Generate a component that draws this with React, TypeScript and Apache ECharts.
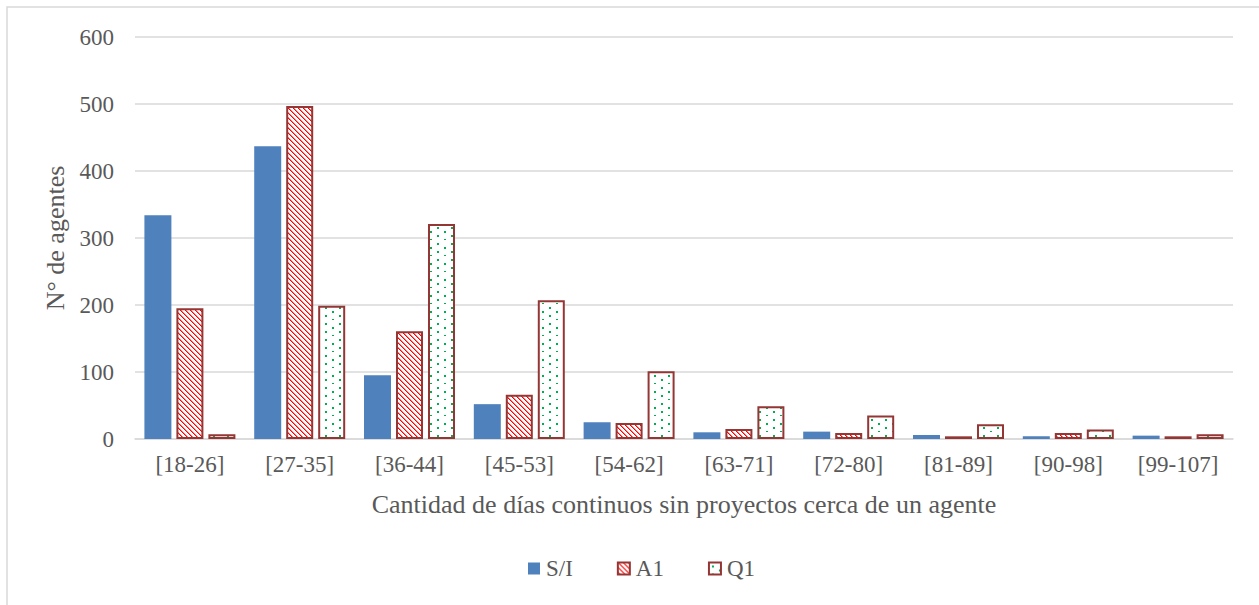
import React, { useEffect, useRef } from "react";
import * as echarts from "echarts";

const categories = ["[18-26]", "[27-35]", "[36-44]", "[45-53]", "[54-62]", "[63-71]", "[72-80]", "[81-89]", "[90-98]", "[99-107]"];
const seriesSI = [334, 437, 95, 52, 25, 10, 11, 6, 4, 5];
const seriesA1 = [195, 497, 161, 66, 24, 15, 9, 4, 9, 4];
const seriesQ1 = [7, 199, 321, 207, 101, 49, 35, 22, 14, 7];
const yTicks = { min: 0, max: 600, interval: 100 };

function hatchPattern() {
  const s = 5;
  const c = document.createElement("canvas");
  c.width = s;
  c.height = s;
  const ctx = c.getContext("2d")!;
  ctx.fillStyle = "#ffffff";
  ctx.fillRect(0, 0, s, s);
  for (let i = 0; i < s; i++) {
    ctx.fillStyle = "#ff0000";
    ctx.fillRect(i, i, 1, 1);
    ctx.fillStyle = "#ff8080";
    ctx.fillRect((i + 1) % s, i, 1, 1);
  }
  return { image: c.toDataURL(), repeat: "repeat", imageWidth: s, imageHeight: s };
}

function dotPattern() {
  const w = 14, h = 16;
  const c = document.createElement("canvas");
  c.width = w;
  c.height = h;
  const ctx = c.getContext("2d")!;
  ctx.fillStyle = "#ffffff";
  ctx.fillRect(0, 0, w, h);
  ctx.fillStyle = "#00b050";
  ctx.fillRect(3, 3, 2, 2);
  ctx.fillRect(10, 7, 2, 2);
  ctx.fillRect(3, 11, 2, 2);
  ctx.fillRect(10, 15, 2, 1);
  return { image: c.toDataURL(), repeat: "repeat", imageWidth: w, imageHeight: h };
}

export default function App() {
  const ref = useRef<HTMLDivElement>(null);
  useEffect(() => {
    if (!ref.current) return;
    const chart = echarts.init(ref.current, null, { renderer: "svg" });
    const font = "'Liberation Serif', 'Times New Roman', serif";
    const textColor = "#595959";
    const border = "#943634";
    chart.setOption({
      animation: false,
      backgroundColor: "#ffffff",
      textStyle: { fontFamily: font },
      graphic: [
        {
          type: "rect",
          shape: { x: 7, y: 7, width: 1400, height: 800 },
          style: { fill: "none", stroke: "#d9d9d9", lineWidth: 1.5 },
          silent: true,
          z: -10,
        },
      ],
      grid: { left: 135, right: 26, top: 37, bottom: 166, containLabel: false },
      legend: {
        bottom: 20,
        left: 523,
        itemWidth: 12,
        itemHeight: 12,
        itemGap: 44,
        icon: "rect",
        textStyle: { fontFamily: font, fontSize: 23, color: textColor, padding: [0, 0, 0, 1] },
        data: ["S/I", "A1", "Q1"],
      },
      xAxis: {
        type: "category",
        data: categories,
        axisLine: { show: true, lineStyle: { color: "#d9d9d9", width: 1.5 } },
        axisTick: { show: false },
        axisLabel: { fontFamily: font, fontSize: 23, color: textColor, margin: 14 },
        name: "Cantidad de días continuos sin proyectos cerca de un agente",
        nameLocation: "middle",
        nameGap: 52,
        nameTextStyle: { fontFamily: font, fontSize: 26, color: textColor },
      },
      yAxis: {
        type: "value",
        min: yTicks.min,
        max: yTicks.max,
        interval: yTicks.interval,
        axisLine: { show: false },
        axisTick: { show: false },
        splitLine: { lineStyle: { color: "#d9d9d9", width: 1.5 } },
        axisLabel: { fontFamily: font, fontSize: 23, color: textColor, margin: 21 },
        name: "N° de agentes",
        nameLocation: "middle",
        nameGap: 66,
        nameTextStyle: { fontFamily: font, fontSize: 26, color: textColor },
      },
      series: [
        {
          name: "S/I",
          type: "bar",
          data: seriesSI,
          barWidth: 27,
          barGap: "18.5%",
          itemStyle: { color: "#4f81bd" },
        },
        {
          name: "A1",
          type: "bar",
          data: seriesA1,
          barWidth: 27,
          barGap: "18.5%",
          itemStyle: { color: hatchPattern(), borderColor: border, borderWidth: 2 },
        },
        {
          name: "Q1",
          type: "bar",
          data: seriesQ1,
          barWidth: 27,
          barGap: "18.5%",
          itemStyle: { color: dotPattern(), borderColor: border, borderWidth: 2 },
        },
      ],
    });
    return () => chart.dispose();
  }, []);
  return (
    <div
      ref={ref}
      style={{ position: "absolute", left: 0, top: 0, width: 1259, height: 605 }}
    />
  );
}
